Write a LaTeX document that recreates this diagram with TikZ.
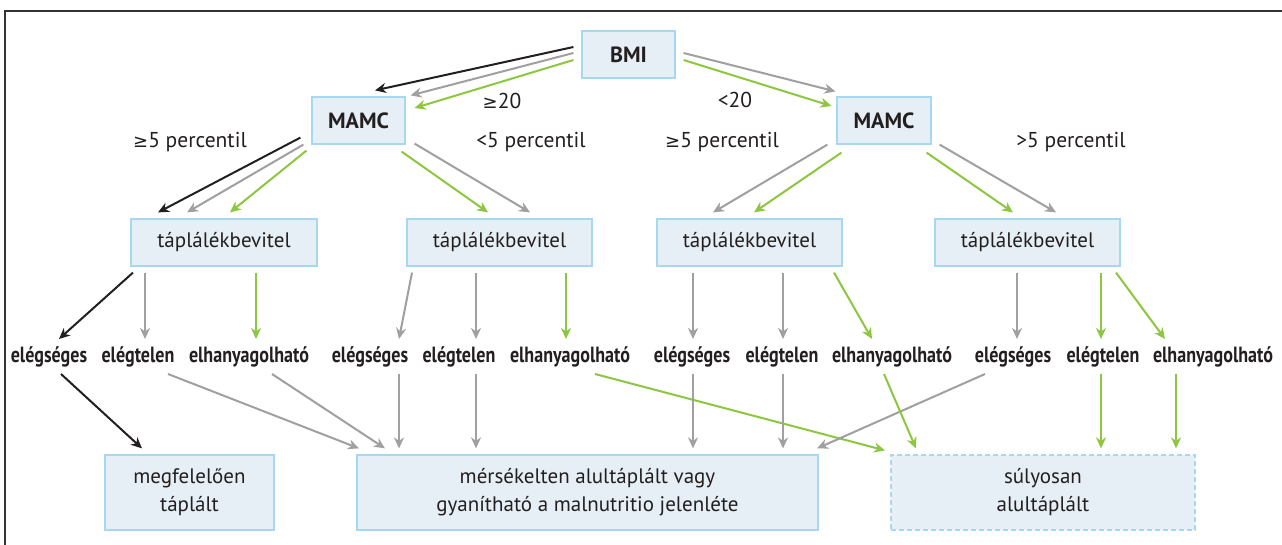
\documentclass[tikz,border=0pt]{standalone}
\usepackage{fontspec}
\setmainfont{PT Sans}
\newfontfamily\condbold[FakeStretch=0.82]{PT Sans Bold}
\newfontfamily\symfont{DejaVu Sans}
\usetikzlibrary{arrows.meta}
\definecolor{boxfill}{HTML}{E6EFF5}
\definecolor{boxline}{HTML}{A6D8F0}
\definecolor{agreen}{HTML}{8DC63F}
\definecolor{agray}{HTML}{A0A0A0}
\definecolor{ablack}{HTML}{231F20}
\definecolor{frame}{HTML}{333333}
\newcommand\gesym{{\symfont\fontsize{18}{20}\selectfont ≥}}
\tikzset{
  box/.style={draw=boxline, fill=boxfill, line width=1.2pt, inner sep=0pt, align=center, text=ablack},
  dbox/.style={box, dashed, dash pattern=on 5pt off 3pt},
  headtxt/.style={font=\bfseries\fontsize{22}{24}\selectfont},
  bodytxt/.style={font=\fontsize{21}{28}\selectfont},
  lbl/.style={text=ablack, inner sep=0pt, font=\fontsize{21.5}{24}\selectfont},
  leaf/.style={text=ablack, inner sep=0pt, font=\condbold\fontsize{22}{24}\selectfont},
  arr/.style={line width=2pt, -{Stealth[length=11pt,width=10pt,inset=3.5pt]}},
  blk/.style={arr, draw=ablack},
  gry/.style={arr, draw=agray},
  grn/.style={arr, draw=agreen},
}
\begin{document}
\begin{tikzpicture}[x=1pt,y=-1pt]
\useasboundingbox (0,0) rectangle (1282,545);
\fill[white] (0,0) rectangle (1282,545);
\draw[frame, line width=1.2pt] (5,545) -- (5,11) -- (1282,11);

% boxes
\node[box, headtxt, minimum width=93pt, minimum height=47pt] (bmi) at (628.5,54.5) {BMI};
\node[box, headtxt, minimum width=93pt, minimum height=47pt] (mamcL) at (358.5,120.5) {MAMC};
\node[box, headtxt, minimum width=94pt, minimum height=47pt] (mamcR) at (884,120.5) {MAMC};
\node[box, bodytxt, minimum width=186pt, minimum height=47pt] (tap1) at (224,242.5) {táplálékbevitel};
\node[box, bodytxt, minimum width=185pt, minimum height=47pt] (tap2) at (499.5,242.5) {táplálékbevitel};
\node[box, bodytxt, minimum width=185pt, minimum height=47pt] (tap3) at (749.5,242.5) {táplálékbevitel};
\node[box, bodytxt, minimum width=185pt, minimum height=47pt] (tap4) at (1027.5,242.5) {táplálékbevitel};
\node[box, bodytxt, minimum width=169pt, minimum height=75pt] (resA) at (189.5,492.5) {megfelelően\\táplált};
\node[box, bodytxt, minimum width=461pt, minimum height=75pt] (resB) at (587.5,492.5) {mérsékelten alultáplált vagy\\gyanítható a malnutritio jelenléte};
\node[dbox, bodytxt, minimum width=304pt, minimum height=75pt] (resC) at (1043,492.5) {súlyosan\\alultáplált};

% condition labels
\node[lbl] (c20a) at (502,101) {\gesym20};
\node[lbl] (c20b) at (735,100) {<20};
\node[lbl] (p1) at (190,142) {\gesym5 percentil};
\node[lbl] (p2) at (531,142) {<5 percentil};
\node[lbl] (p3) at (722,142) {\gesym5 percentil};
\node[lbl] (p4) at (1071,142) {>5 percentil};

% leaf labels
\node[leaf] (l1a) at (49,357) {elégséges};
\node[leaf] (l1b) at (138,357) {elégtelen};
\node[leaf] (l1c) at (249,357) {elhanyagolható};
\node[leaf] (l2a) at (370,357) {elégséges};
\node[leaf] (l2b) at (459,357) {elégtelen};
\node[leaf] (l2c) at (570,357) {elhanyagolható};
\node[leaf] (l3a) at (692,357) {elégséges};
\node[leaf] (l3b) at (782,357) {elégtelen};
\node[leaf] (l3c) at (892,357) {elhanyagolható};
\node[leaf] (l4a) at (1013,357) {elégséges};
\node[leaf] (l4b) at (1103,357) {elégtelen};
\node[leaf] (l4c) at (1213,357) {elhanyagolható};

% BMI -> MAMC
\draw[blk] ([shift={(-8,-7.5)}]bmi.west) -- ([shift={(16.5,-6)}]mamcL.north);
\draw[gry] ([shift={(-8,-1.5)}]bmi.west) -- ([shift={(5,-1)}]mamcL.north east);
\draw[grn] ([shift={(-8,5.5)}]bmi.west) -- ([shift={(9,-12.5)}]mamcL.east);
\draw[gry] ([shift={(8,-1.5)}]bmi.east) -- ([shift={(-1,-5)}]mamcR.north west);
\draw[grn] ([shift={(8,5.5)}]bmi.east) -- ([shift={(-5,-14.5)}]mamcR.west);

% MAMC -> taplalekbevitel
\draw[blk] ([shift={(-11,-7)}]mamcL.south west) -- ([shift={(-66,-6)}]tap1.north);
\draw[gry] ([shift={(-8,0)}]mamcL.south west) -- ([shift={(-37,-6)}]tap1.north);
\draw[grn] ([shift={(-5,6)}]mamcL.south west) -- ([shift={(6,-6)}]tap1.north);
\draw[grn] ([shift={(-4,7)}]mamcL.south east) -- ([shift={(-11.5,-6)}]tap2.north);
\draw[gry] ([shift={(9,-1)}]mamcL.south east) -- ([shift={(30.5,-6)}]tap2.north);
\draw[gry] ([shift={(-9,0)}]mamcR.south west) -- ([shift={(-36.5,-6)}]tap3.north);
\draw[grn] ([shift={(5,8)}]mamcR.south west) -- ([shift={(4.5,-6)}]tap3.north);
\draw[grn] ([shift={(-5,8)}]mamcR.south east) -- ([shift={(-14.5,-6)}]tap4.north);
\draw[gry] ([shift={(8,0)}]mamcR.south east) -- ([shift={(28.5,-6)}]tap4.north);

% taplalekbevitel -> leaves
\draw[blk] ([shift={(-91,6)}]tap1.south) -- ([shift={(10,-18)}]l1a.center);
\draw[gry] ([shift={(-79,6)}]tap1.south) -- ([shift={(7,-18)}]l1b.center);
\draw[grn] ([shift={(32,6)}]tap1.south) -- ([shift={(7,-18)}]l1c.center);
\draw[gry] ([shift={(-87.5,6)}]tap2.south) -- ([shift={(29,-18)}]l2a.center);
\draw[gry] ([shift={(-23.5,6)}]tap2.south) -- ([shift={(17,-18)}]l2b.center);
\draw[grn] ([shift={(66.5,6)}]tap2.south) -- ([shift={(-4,-18)}]l2c.center);
\draw[gry] ([shift={(-56.5,6)}]tap3.south) -- ([shift={(1,-18)}]l3a.center);
\draw[gry] ([shift={(33.5,6)}]tap3.south) -- ([shift={(1,-18)}]l3b.center);
\draw[grn] ([shift={(84.5,6)}]tap3.south) -- ([shift={(-20,-18)}]l3c.center);
\draw[gry] ([shift={(-10.5,6)}]tap4.south) -- ([shift={(4,-18)}]l4a.center);
\draw[grn] ([shift={(73.5,6)}]tap4.south) -- ([shift={(-2,-18)}]l4b.center);
\draw[grn] ([shift={(88.5,6)}]tap4.south) -- ([shift={(-48,-18)}]l4c.center);

% leaves -> results
\draw[grn] ([shift={(25,17)}]l2c.center) -- ([shift={(-158,-4)}]resC.north);
\draw[blk] ([shift={(12,17)}]l1a.center) -- ([shift={(-47.5,-6)}]resA.north);
\draw[gry] ([shift={(30,17)}]l1b.center) -- ([shift={(-228.5,-6)}]resB.north);
\draw[gry] ([shift={(23,17)}]l1c.center) -- ([shift={(-202.5,-6)}]resB.north);
\draw[gry] ([shift={(29,17)}]l2a.center) -- ([shift={(-188.5,-6)}]resB.north);
\draw[gry] ([shift={(17,17)}]l2b.center) -- ([shift={(-111.5,-6)}]resB.north);
\draw[gry] ([shift={(1,17)}]l3a.center) -- ([shift={(105.5,-6)}]resB.north);
\draw[gry] ([shift={(1,17)}]l3b.center) -- ([shift={(195.5,-6)}]resB.north);
\draw[gry] ([shift={(-28,17)}]l4a.center) -- ([shift={(229.5,-6)}]resB.north);
\draw[grn] ([shift={(-8,17)}]l3c.center) -- ([shift={(-127,-6)}]resC.north);
\draw[grn] ([shift={(-2,17)}]l4b.center) -- ([shift={(58,-6)}]resC.north);
\draw[grn] ([shift={(-37,17)}]l4c.center) -- ([shift={(133,-6)}]resC.north);
\end{tikzpicture}
\end{document}
